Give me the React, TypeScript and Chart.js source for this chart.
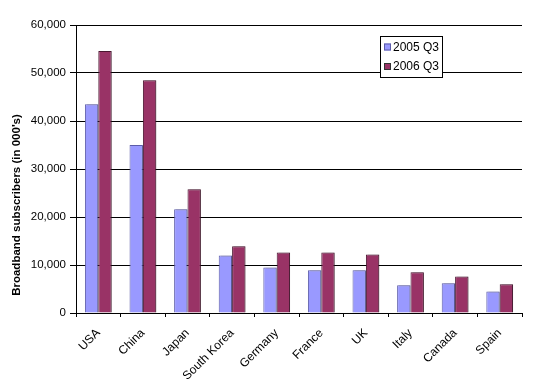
import React, { useEffect, useRef } from "react";
import { Chart, registerables } from "chart.js";

Chart.register(...registerables);

const categories = ["USA", "China", "Japan", "South Korea", "Germany", "France", "UK", "Italy", "Canada", "Spain"];
const series2005 = [43500, 35000, 21600, 12000, 9500, 8900, 8900, 5800, 6200, 4500];
const series2006 = [54600, 48500, 25800, 13900, 12600, 12600, 12200, 8500, 7600, 6000];
const seriesNames = ["2005 Q3", "2006 Q3"];
const yAxisTitle = "Broadband subscribers (in 000's)";
const yMin = 0;
const yMax = 60000;
const yStep = 10000;

const fill2005 = "#9999FF";
const border2005 = "#5c5ca8";
const fill2006 = "#993366";
const border2006 = "#4a1630";
const FONT = "Arial, 'Liberation Sans', sans-serif";

const shadowPlugin = {
  id: "barShadow",
  beforeDatasetsDraw(chart: any) {
    const ctx = chart.ctx;
    ctx.save();
    ctx.shadowColor = "rgba(0,0,0,0.22)";
    ctx.shadowOffsetX = 2;
    ctx.shadowOffsetY = 0;
    ctx.shadowBlur = 0;
  },
  afterDatasetsDraw(chart: any) {
    chart.ctx.restore();
  },
};

const decorPlugin = {
  id: "decor",
  afterDraw(chart: any) {
    const ctx = chart.ctx;
    // y axis title
    ctx.save();
    ctx.translate(17, 205);
    ctx.rotate(-Math.PI / 2);
    ctx.font = `bold 11.5px ${FONT}`;
    ctx.fillStyle = "#000";
    ctx.textAlign = "center";
    ctx.textBaseline = "middle";
    ctx.fillText(yAxisTitle, 0, 0);
    ctx.restore();

    // legend box
    const bx = 380.5, by = 36.5, bw = 62, bh = 41;
    ctx.save();
    ctx.fillStyle = "#fff";
    ctx.fillRect(bx, by, bw, bh);
    ctx.strokeStyle = "#000";
    ctx.lineWidth = 1;
    ctx.strokeRect(bx, by, bw, bh);
    const fills = [fill2005, fill2006];
    const borders = [border2005, "#333"];
    const rowY = [47, 66.5];
    ctx.font = `12px ${FONT}`;
    ctx.textBaseline = "middle";
    ctx.textAlign = "left";
    for (let i = 0; i < 2; i++) {
      ctx.fillStyle = fills[i];
      ctx.fillRect(384, rowY[i] - 3.5, 7, 7);
      ctx.strokeStyle = borders[i];
      ctx.strokeRect(384.5, rowY[i] - 3.5 + 0.5, 6, 6);
      ctx.fillStyle = "#000";
      ctx.fillText(seriesNames[i], 393, rowY[i] + 0.5);
    }
    ctx.restore();
  },
};

export default function App() {
  const ref = useRef<HTMLCanvasElement>(null);
  useEffect(() => {
    document.body.style.margin = "0";
    const c = ref.current!;
    const chart = new Chart(c, {
      type: "bar",
      data: {
        labels: categories,
        datasets: [
          {
            label: seriesNames[0],
            data: series2005,
            backgroundColor: fill2005,
            borderColor: border2005,
            borderWidth: 1,
            categoryPercentage: 0.6,
            barPercentage: 1.0,
          },
          {
            label: seriesNames[1],
            data: series2006,
            backgroundColor: fill2006,
            borderColor: border2006,
            borderWidth: 1,
            categoryPercentage: 0.6,
            barPercentage: 1.0,
          },
        ],
      },
      options: {
        responsive: false,
        animation: false,
        layout: { padding: { top: 25, right: 28, left: 0, bottom: 0 } },
        plugins: { legend: { display: false }, tooltip: { enabled: false }, title: { display: false } },
        scales: {
          x: {
            offset: true,
            grid: { offset: true, drawOnChartArea: false, drawTicks: true, tickLength: 4, color: "#000" },
            border: { display: true, color: "#000" },
            ticks: {
              color: "#000",
              font: { family: FONT, size: 12 },
              minRotation: 45,
              maxRotation: 45,
              autoSkip: false,
              padding: 9,
            },
            afterFit(scale: any) {
              scale.height = 77;
            },
          },
          y: {
            min: yMin,
            max: yMax,
            grid: { color: "#000", lineWidth: 1, drawTicks: true, tickLength: 6 },
            border: { display: true, color: "#000" },
            ticks: {
              stepSize: yStep,
              color: "#000",
              font: { family: FONT, size: 11.5 },
              padding: 4,
              callback: (v: any) => Number(v).toLocaleString("en-US"),
            },
            afterFit(scale: any) {
              scale.width = 76;
            },
          },
        },
      },
      plugins: [shadowPlugin, decorPlugin],
    });
    return () => chart.destroy();
  }, []);
  return (
    <div style={{ width: 550, height: 390, background: "#fff" }}>
      <canvas ref={ref} width={550} height={390} style={{ display: "block" }} />
    </div>
  );
}
